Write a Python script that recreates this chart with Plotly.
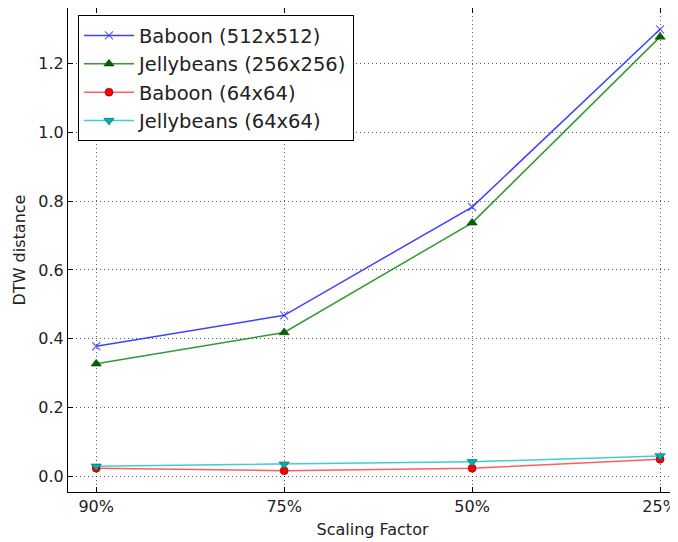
import plotly.graph_objects as go

categories = ["90%", "75%", "50%", "25%"]
baboon_512 = [0.378, 0.468, 0.783, 1.300]
jelly_256 = [0.327, 0.418, 0.737, 1.278]
baboon_64 = [0.023, 0.016, 0.023, 0.049]
jelly_64 = [0.029, 0.035, 0.042, 0.059]

x = list(range(len(categories)))
font = "DejaVu Sans"

fig = go.Figure()
fig.add_trace(go.Scatter(x=x, y=baboon_512, name="Baboon (512x512)", mode="lines+markers",
                         line=dict(color="rgba(30,30,255,0.85)", width=1.5),
                         marker=dict(symbol="x-thin", size=8, line=dict(color="rgba(60,60,255,0.8)", width=1.2))))
fig.add_trace(go.Scatter(x=x, y=jelly_256, name="Jellybeans (256x256)", mode="lines+markers",
                         line=dict(color="rgba(0,128,0,0.8)", width=1.5),
                         marker=dict(symbol="triangle-up", size=9, color="#006400", line=dict(color="#003300", width=0.5))))
fig.add_trace(go.Scatter(x=x, y=baboon_64, name="Baboon (64x64)", mode="lines+markers",
                         line=dict(color="rgba(255,40,40,0.75)", width=1.5),
                         marker=dict(symbol="circle", size=8, color="#ff0000", line=dict(color="#550000", width=0.5))))
fig.add_trace(go.Scatter(x=x, y=jelly_64, name="Jellybeans (64x64)", mode="lines+markers",
                         line=dict(color="rgba(0,190,190,0.75)", width=1.5),
                         marker=dict(symbol="triangle-down", size=9, color="#00b0b0", line=dict(color="#004444", width=0.5))))

axis_common = dict(showline=True, linecolor="black", linewidth=1, mirror="allticks",
                   ticks="inside", ticklen=5, tickcolor="black", automargin=False,
                   showgrid=True, gridcolor="rgba(0,0,0,0.65)", griddash="1px,3px", gridwidth=1,
                   zeroline=False, tickfont=dict(family=font, size=16, color="#222"))

fig.update_xaxes(range=[-0.15, 3.09], tickmode="array", tickvals=x, ticktext=categories,
                 title=dict(text="Scaling Factor", font=dict(family=font, size=16, color="#222"), standoff=8),
                 **axis_common)
fig.update_yaxes(range=[-0.046, 1.362], tickmode="array",
                 tickvals=[0.0, 0.2, 0.4, 0.6, 0.8, 1.0, 1.2],
                 ticktext=["0.0", "0.2", "0.4", "0.6", "0.8", "1.0", "1.2"],
                 title=dict(text="DTW distance", font=dict(family=font, size=16, color="#222"), standoff=8),
                 **axis_common)

# page has an 8px body margin; margins below compensate for it
fig.update_layout(
    width=678, height=542,
    margin=dict(l=60, r=9, t=0, b=58),
    plot_bgcolor="white", paper_bgcolor="white",
    font=dict(family=font, color="#222"),
    legend=dict(x=0.0164, y=0.985, xanchor="left", yanchor="top",
                bgcolor="white", bordercolor="black", borderwidth=1,
                font=dict(family=font, size=19.5, color="#222"),
                itemwidth=50, tracegroupgap=0),
    showlegend=True,
)

fig.write_html("out.html")
